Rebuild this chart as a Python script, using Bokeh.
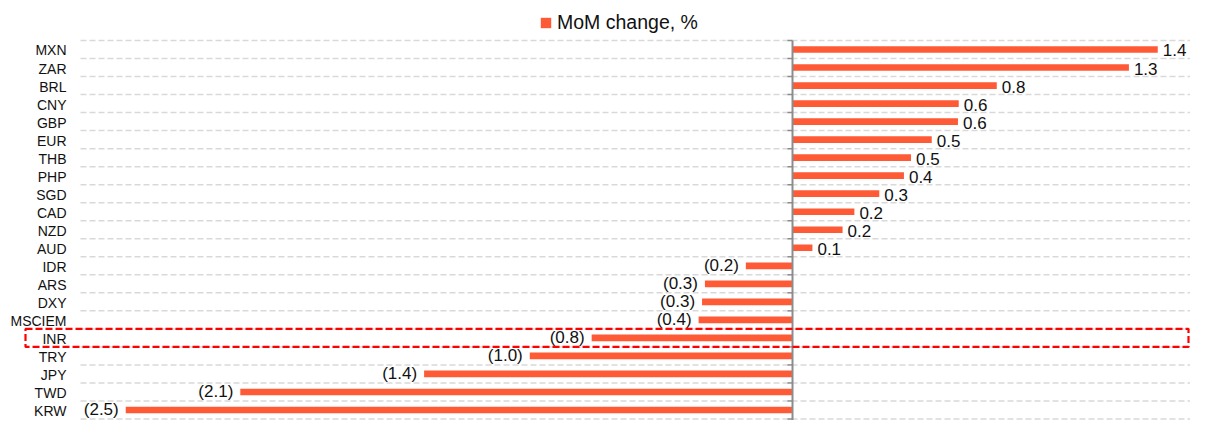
from bokeh.plotting import figure
from bokeh.models import ColumnDataSource, Range1d, Legend, LegendItem, BoxAnnotation
from bokeh.core.properties import value
from bokeh.embed import file_html
from bokeh.resources import INLINE

# ---- data (top to bottom) ----
categories = ["MXN", "ZAR", "BRL", "CNY", "GBP", "EUR", "THB", "PHP", "SGD", "CAD", "NZD",
              "AUD", "IDR", "ARS", "DXY", "MSCIEM", "INR", "TRY", "JPY", "TWD", "KRW"]
mom_change = [1.393, 1.283, 0.779, 0.634, 0.631, 0.531, 0.452, 0.425, 0.331, 0.236, 0.191,
              0.076, -0.178, -0.334, -0.345, -0.358, -0.766, -1.002, -1.405, -2.106, -2.543]
highlight = "INR"
series_name = "MoM change, %"

n = len(categories)
ypos = [n - 1 - i for i in range(n)]


def fmt(v):
    s = f"{abs(v):.1f}"
    return f"({s})" if v < 0 else s


labels = [fmt(v) for v in mom_change]
pos = [v >= 0 for v in mom_change]

# ---- layout (plot units) ----
W, H = 1190, 420
X0, X1 = -3.0206, 1.5179          # x range of the frame
PX = W / (X1 - X0)                 # pixels per unit
GRID_X0 = X0 + 80 / PX             # where the dashed grid / category column starts
Y0, Y1 = -0.583, n + 1.718

src_pos = ColumnDataSource(dict(y=[y for y, p_ in zip(ypos, pos) if p_],
                                x=[v for v, p_ in zip(mom_change, pos) if p_],
                                t=[t for t, p_ in zip(labels, pos) if p_]))
src_neg = ColumnDataSource(dict(y=[y for y, p_ in zip(ypos, pos) if not p_],
                                x=[v for v, p_ in zip(mom_change, pos) if not p_],
                                t=[t for t, p_ in zip(labels, pos) if not p_]))
src_all = ColumnDataSource(dict(y=ypos, x=mom_change))
src_cat = ColumnDataSource(dict(y=ypos, x=[GRID_X0] * n, t=categories))

FONT = "Liberation Sans"
BAR = "#FF5A36"
AXIS = "#8C8C8C"
TXT = "#111111"

p = figure(width=W, height=H, output_backend="svg", toolbar_location=None,
           x_range=Range1d(X0, X1), y_range=Range1d(Y0, Y1),
           x_axis_location=None, y_axis_location=None,
           min_border_left=0, min_border_right=0, min_border_top=0, min_border_bottom=0)
p.outline_line_color = None
p.background_fill_color = "white"
p.grid.visible = False

# dashed grid at category boundaries
bnd = [k - 0.5 for k in range(n + 1)]
p.segment(x0=[GRID_X0] * len(bnd), x1=[X1] * len(bnd), y0=bnd, y1=bnd,
          line_color="#D9D9D9", line_width=1.5, line_dash="6 3")

# category labels
p.text(x="x", y="y", text="t", source=src_cat, x_offset=-14, y_offset=1,
       text_align="right", text_baseline="middle", text_font=value(FONT),
       text_font_size="14px", text_color=TXT)

bars = p.hbar(y="y", left=0, right="x", height=0.37, source=src_all,
              fill_color=BAR, line_color=None)

# zero line with small ticks at category boundaries
p.segment(x0=[0], x1=[0], y0=[-1], y1=[n - 0.5], line_color=AXIS, line_width=2)
tick = 5 / PX
p.segment(x0=[-tick] * len(bnd), x1=[0] * len(bnd), y0=bnd, y1=bnd,
          line_color=AXIS, line_width=1.5)

# value labels
p.text(x="x", y="y", text="t", source=src_pos, x_offset=5, y_offset=1,
       text_align="left", text_baseline="middle", text_font=value(FONT),
       text_font_size="17px", text_color=TXT)
p.text(x="x", y="y", text="t", source=src_neg, x_offset=-7, y_offset=0,
       text_align="right", text_baseline="middle", text_font=value(FONT),
       text_font_size="17px", text_color=TXT)

# highlight box around INR
hi = ypos[categories.index(highlight)]
p.add_layout(BoxAnnotation(left=25, left_units="screen", right=W - 2, right_units="screen",
                           bottom=hi - 0.5, top=hi + 0.5, fill_alpha=0,
                           line_color="#FF0000", line_alpha=1, line_width=2.2,
                           line_dash="7 3"))

legend = Legend(items=[LegendItem(label=series_name, renderers=[bars])],
                orientation="horizontal", location=(539, 386),
                glyph_width=13, glyph_height=13, label_standoff=5,
                label_text_font=FONT, label_text_font_size="19.5px",
                label_text_color=TXT, border_line_color=None,
                background_fill_alpha=0, padding=0, margin=0, spacing=0)
p.add_layout(legend)

open("out.html", "w").write(file_html(p, INLINE))
